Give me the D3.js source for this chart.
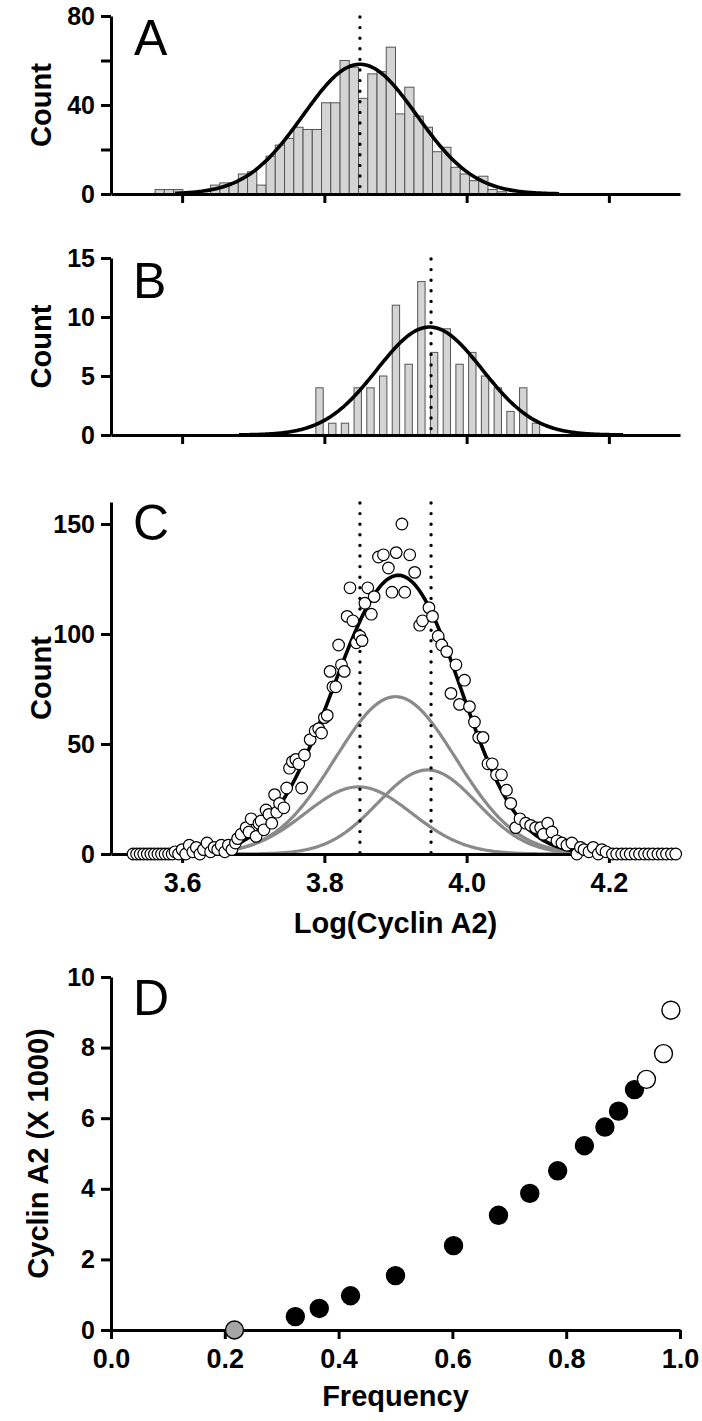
<!DOCTYPE html>
<html><head><meta charset="utf-8">
<script src="https://cdn.jsdelivr.net/npm/d3@7"></script>
<style>
body{margin:0;background:#fff;}
svg{display:block;}
.tk text{font-family:"Liberation Sans",Arial,sans-serif;font-weight:bold;fill:#000;}
.ttl{font-family:"Liberation Sans",Arial,sans-serif;font-weight:bold;fill:#000;}
.plab{font-family:"Liberation Sans",Arial,sans-serif;font-weight:normal;fill:#000;}
</style></head><body>
<svg id="chart" width="702" height="1421"></svg>
<script>
// ---------------- DATA ----------------
// Panel A histogram (bin left edge = binStartA + i*binWidthA)
const binStartA = 3.562, binWidthA = 0.013;
const countsA = [2,2,2,0,0,0,4,5,5,9,10,4,17,22,25,30,29,29,41,41,60,57,43,54,55,66,36,48,35,30,19,21,12,9,6,8,2,1];
const fitA = [3.85, 0.08, 58.3];          // mean, sd, peak
const meanLineA = [3.85];

// Panel B histogram
const binStartB = 3.788, binWidthB = 0.0179, barFracB = 0.58;
const countsB = [4,1,1,4,4,5,11,6,13,7,9,6,7,5,4,2,4,1];
const fitB = [3.948, 0.074, 9.15];
const meanLineB = [3.95];

// Panel C scatter (log cyclin A2, count)
const cX = [3.531,3.536,3.541,3.546,3.551,3.556,3.561,3.566,3.571,3.576,3.581,
  3.586,3.590,3.595,3.600,3.605,3.610,3.615,3.620,3.625,3.630,3.635,3.640,3.645,3.650,3.655,3.660,3.665,3.670,3.675,
  3.678,3.683,3.690,3.694,3.697,3.704,3.708,3.711,3.715,3.718,3.722,3.726,3.730,3.733,3.737,3.743,3.747,3.751,3.755,3.760,3.764,3.768,3.772,3.780,3.787,3.792,3.796,3.800,3.804,3.808,3.812,3.816,3.820,3.824,3.828,3.832,3.836,3.840,3.845,3.850,3.853,3.857,3.861,3.866,3.870,3.876,3.883,3.890,3.895,3.901,3.909,3.913,3.920,3.927,3.934,3.938,3.947,3.952,3.960,3.965,3.972,3.978,3.985,3.990,3.997,4.004,4.011,4.017,4.023,4.030,4.036,4.042,4.049,4.056,4.062,4.069,4.075,4.083,4.090,4.097,4.104,4.108,4.114,4.120,4.127,4.134,4.141,4.148,4.155,4.160,4.165,4.172,4.178,4.185,4.190,4.196,
  4.205,4.211,4.218,4.224,4.230,4.237,4.243,4.250,4.256,4.262,4.269,4.275,4.281,4.288,4.294];
const cY = [0,0,0,0,0,0,0,0,0,0,0,
  0,1,0,2,0,4,1,3,0,2,5,1,3,2,4,1,4,2,5,
  7,9,12,10,16,8,14,15,11,20,18,14,27,19,23,21,30,39,42,43,41,30,45,52,56,57,55,62,63,83,76,76,95,86,83,108,121,106,96,99,97,114,121,109,117,135,136,130,119,137,150,119,136,128,104,106,112,108,99,95,92,73,86,68,79,67,60,53,53,41,41,36,36,29,23,12,16,14,13,12,12,9,14,10,6,5,4,5,0,3,2,1,3,0,2,1,
  0,0,0,0,0,0,0,0,0,0,0,0,0,0,0];
const fitC = [[3.848, 0.075, 30.5], [3.900, 0.085, 71.5], [3.945, 0.070, 38.2]];
const meanLinesC = [3.85, 3.95];

// Panel D
const dFreq    = [0.217,0.324,0.366,0.421,0.500,0.602,0.681,0.736,0.785,0.832,0.868,0.892,0.920,0.941,0.971,0.984];
const dCyclin  = [0.00,0.38,0.61,0.97,1.54,2.39,3.25,3.87,4.51,5.22,5.75,6.20,6.81,7.10,7.83,9.06];
const dKind    = ["gray","black","black","black","black","black","black","black","black","black","black","black","black","open","open","open"];

const ticksLog = [3.6, 3.8, 4.0, 4.2];
const ticksA = [0,20,40,60,80], labelsA = [0,40,80];
const ticksB = [0,5,10,15];
const ticksC = [0,50,100,150];
const ticksDy = [0,2,4,6,8,10];
const ticksDx = [0,0.2,0.4,0.6,0.8,1.0];

// ---------------- DRAW ----------------
const svg = d3.select("#chart");
const X0 = 111, X1 = 680;
const xLog = d3.scaleLinear().domain([3.5, 4.3]).range([X0, X1]);
const gauss = (p, x) => p[2] * Math.exp(-0.5 * Math.pow((x - p[0]) / p[1], 2));

function styleAxis(g, fs) {
  g.attr("class", "tk");
  g.select(".domain").attr("stroke", "#000").attr("stroke-width", 3);
  g.selectAll(".tick line").attr("stroke", "#000").attr("stroke-width", 3);
  g.selectAll(".tick text").attr("font-size", fs);
}
function xAxis(y, scale, ticks, fmt, fs) {
  const g = svg.append("g").attr("transform", `translate(0,${y})`)
    .call(d3.axisBottom(scale).tickValues(ticks).tickSize(9).tickSizeOuter(0).tickPadding(10).tickFormat(fmt));
  styleAxis(g, fs);
  return g;
}
function yAxis(scale, ticks, fmt, fs) {
  const g = svg.append("g").attr("transform", `translate(${X0},0)`)
    .call(d3.axisLeft(scale).tickValues(ticks).tickSize(10).tickSizeOuter(0).tickPadding(6).tickFormat(fmt));
  styleAxis(g, fs);
  return g;
}
function yTitle(text, cx, cy, fs) {
  svg.append("text").attr("class", "ttl").attr("font-size", fs)
    .attr("transform", `translate(${cx},${cy}) rotate(-90)`).attr("text-anchor", "middle").text(text);
}
function panelLabel(t, x, y) {
  svg.append("text").attr("class", "plab").attr("font-size", 50).attr("x", x).attr("y", y).text(t);
}
function dotted(x, y0, y1) {
  svg.append("line").attr("x1", x).attr("x2", x).attr("y1", y0).attr("y2", y1)
    .attr("stroke", "#000").attr("stroke-width", 3.4).attr("stroke-linecap", "round")
    .attr("stroke-dasharray", "0 10.6");
}
function curve(p, yS, lo, hi, color, w) {
  const xs = d3.range(lo, hi + 1e-9, 0.002);
  svg.append("path").datum(xs)
    .attr("d", d3.line().x(d => xLog(d)).y(d => yS(typeof p === "function" ? p(d) : gauss(p, d))))
    .attr("fill", "none").attr("stroke", color).attr("stroke-width", w).attr("stroke-linejoin", "round");
}

// ---- Panel A ----
const yA = d3.scaleLinear().domain([0, 80]).range([194, 16]);
svg.append("g").selectAll("rect").data(countsA).join("rect")
  .attr("x", (d, i) => xLog(binStartA + i * binWidthA))
  .attr("width", xLog(binStartA + binWidthA) - xLog(binStartA))
  .attr("y", d => yA(d)).attr("height", d => yA(0) - yA(d))
  .attr("fill", "#d4d4d4").attr("stroke", "#555").attr("stroke-width", 1)
  .attr("display", d => d > 0 ? null : "none");
curve(fitA, yA, 3.59, 4.13, "#000", 3.6);
dotted(xLog(meanLineA[0]), 17, 193);
xAxis(yA(0), xLog, ticksLog, () => "", 27);
yAxis(yA, ticksA, d => labelsA.includes(d) ? d : "", 25);
yTitle("Count", 51, (yA(0) + yA(80)) / 2, 29);
panelLabel("A", 134, 55);

// ---- Panel B ----
const yB = d3.scaleLinear().domain([0, 15]).range([435, 258]);
const bwB = xLog(binStartB + binWidthB) - xLog(binStartB);
svg.append("g").selectAll("rect").data(countsB).join("rect")
  .attr("x", (d, i) => xLog(binStartB + i * binWidthB))
  .attr("width", bwB * barFracB)
  .attr("y", d => yB(d)).attr("height", d => yB(0) - yB(d))
  .attr("fill", "#d4d4d4").attr("stroke", "#555").attr("stroke-width", 1);
curve(fitB, yB, 3.68, 4.22, "#000", 3.6);
dotted(xLog(meanLineB[0]), 259, 434);
xAxis(yB(0), xLog, ticksLog, () => "", 27);
yAxis(yB, ticksB, d => d, 25);
yTitle("Count", 51, (yB(0) + yB(15)) / 2, 29);
panelLabel("B", 133, 298);

// ---- Panel C ----
const yC = d3.scaleLinear().domain([0, 160]).range([854, 502]);
fitC.forEach(p => curve(p, yC, 3.67, 4.15, "#8a8a8a", 3.2));
curve(x => fitC.reduce((s, p) => s + gauss(p, x), 0), yC, 3.67, 4.15, "#000", 3.6);
meanLinesC.forEach(m => dotted(xLog(m), 503, 853));
xAxis(yC(0), xLog, ticksLog, d3.format(".1f"), 27);
yAxis(yC, ticksC, d => d, 25);
svg.append("g").selectAll("circle").data(cX).join("circle")
  .attr("cx", d => xLog(d)).attr("cy", (d, i) => yC(cY[i])).attr("r", 5.8)
  .attr("fill", "#fff").attr("stroke", "#000").attr("stroke-width", 1.2);
yTitle("Count", 51, (yC(0) + yC(160)) / 2, 29);
svg.append("text").attr("class", "ttl").attr("font-size", 29).attr("x", (X0 + X1) / 2).attr("y", 933)
  .attr("text-anchor", "middle").text("Log(Cyclin A2)");
panelLabel("C", 133, 540);

// ---- Panel D ----
const xD = d3.scaleLinear().domain([0, 1]).range([X0, X1]);
const yD = d3.scaleLinear().domain([0, 10]).range([1330, 977]);
xAxis(yD(0), xD, ticksDx, d3.format(".1f"), 27);
yAxis(yD, ticksDy, d => d, 25);
const fillD = {gray: "#a6a6a6", black: "#000", open: "#fff"};
svg.append("g").selectAll("circle").data(dFreq).join("circle")
  .attr("cx", d => xD(d)).attr("cy", (d, i) => yD(dCyclin[i])).attr("r", 9)
  .attr("fill", (d, i) => fillD[dKind[i]]).attr("stroke", "#000").attr("stroke-width", 1.4);
yTitle("Cyclin A2 (X 1000)", 48, (yD(0) + yD(10)) / 2, 29);
svg.append("text").attr("class", "ttl").attr("font-size", 29).attr("x", (X0 + X1) / 2).attr("y", 1406)
  .attr("text-anchor", "middle").text("Frequency");
panelLabel("D", 133, 1015);
</script></body></html>
